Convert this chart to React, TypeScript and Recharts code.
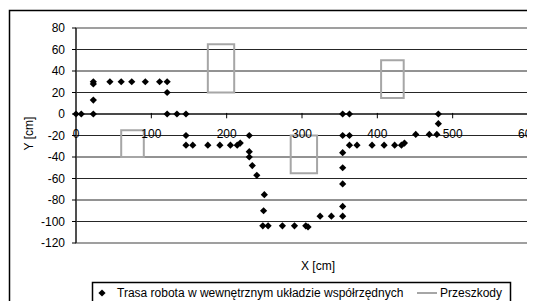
import React from "react";
import {
  ScatterChart, Scatter, XAxis, YAxis, CartesianGrid, ReferenceLine,
  ReferenceArea, Legend
} from "recharts";

// robot path
const robotX = [
  0, 7, 23, 23, 23, 23, 45, 60, 74, 92, 111, 121, 121, 121, 134, 146, 146, 146,
  155, 175, 191, 205, 214, 218, 230, 230, 230, 234, 240, 250, 249, 248, 255, 274,
  290, 305, 308, 324, 339, 354, 354, 354, 354, 354, 354, 354, 363, 363, 363, 373,
  393, 409, 423, 432, 436, 451, 469, 479, 481, 481,
];
const robotY = [
  0, 0, 0, 13, 28, 30, 30, 30, 30, 30, 30, 30, 20, 0, 0, 0, -20, -29,
  -29, -29, -29, -29, -29, -27, -20, -35, -40, -48, -57, -75, -90, -104, -104, -104,
  -104, -104, -105, -95, -95, -95, -86, -65, -50, -36, -20, 0, 0, -20, -29, -29,
  -29, -29, -29, -29, -27, -19, -19, -19, -9, 0,
];

// obstacles: [x1, x2, y1, y2]
const obstacles = [
  [175, 210, 20, 65],
  [60, 90, -40, -15],
  [285, 320, -55, -20],
  [405, 435, 15, 50],
];

const xTicks = [0, 100, 200, 300, 400, 500, 600];
const yTicks = [-120, -100, -80, -60, -40, -20, 0, 20, 40, 60, 80];
const gridValues = [-100, -80, -60, -40, -20, 0, 20, 40, 60];

const robot = robotX.map((x, i) => ({ x, y: robotY[i] }));
const obstacleOutlines = obstacles.map(([x1, x2, y1, y2]) => [
  { x: x1, y: y1 },
  { x: x2, y: y1 },
  { x: x2, y: y2 },
  { x: x1, y: y2 },
  { x: x1, y: y1 },
]);

const FONT = '"Liberation Sans", Arial, sans-serif';

const Diamond = (props: any) => {
  const { cx, cy } = props;
  const r = 3.6;
  return (
    <polygon
      points={`${cx},${cy - r} ${cx + r},${cy} ${cx},${cy + r} ${cx - r},${cy}`}
      fill="#000"
    />
  );
};

const LegendItems = () => (
  <div
    style={{
      position: "relative",
      width: 419,
      height: 19,
      fontFamily: FONT,
      fontSize: 12,
      lineHeight: "14px",
      color: "#000",
    }}
  >
    <svg width={419} height={19} style={{ position: "absolute", left: 0, top: 0 }}>
      <polygon points="10,7.4 13.6,11 10,14.6 6.4,11" fill="#000" />
      <line x1={325} x2={345} y1={11} y2={11} stroke="#a6a6a6" strokeWidth={2} />
    </svg>
    <span style={{ position: "absolute", left: 25, top: 4, whiteSpace: "nowrap" }}>
      Trasa robota w wewnętrznym układzie współrzędnych
    </span>
    <span style={{ position: "absolute", left: 348, top: 4, whiteSpace: "nowrap" }}>
      Przeszkody
    </span>
  </div>
);

export default function App() {
  return (
    <div style={{ position: "relative", width: 527, height: 293, overflow: "hidden", background: "#fff" }}>
      <div style={{ position: "absolute", left: 0, top: 0 }}>
        <ScatterChart
          width={527}
          height={293}
          margin={{ top: 20, right: 7, left: 8, bottom: 0 }}
          style={{ fontFamily: FONT }}
        >
          <CartesianGrid
            horizontal
            vertical={false}
            horizontalValues={gridValues}
            stroke="#000"
            strokeOpacity={0.85}
          />
          <ReferenceArea
            x1={0} x2={600} y1={-120} y2={80}
            fill="none" fillOpacity={0} stroke="#808080" strokeWidth={1.5}
            ifOverflow="visible"
          />
          <XAxis
            type="number"
            dataKey="x"
            domain={[0, 600]}
            ticks={xTicks}
            tick={false}
            axisLine={false}
            tickLine={false}
            height={58}
            label={(p: any) => {
              const vb = p.viewBox;
              return (
                <text
                  x={vb.x + vb.width / 2 + 16}
                  y={vb.y + 27}
                  textAnchor="middle"
                  fontSize={12}
                  fill="#000"
                  fontFamily={FONT}
                >
                  X [cm]
                </text>
              );
            }}
          />
          <YAxis
            type="number"
            dataKey="y"
            domain={[-120, 80]}
            ticks={yTicks}
            interval={0}
            width={60}
            axisLine={{ stroke: "#000" }}
            tickLine={{ stroke: "#000" }}
            tickSize={4}
            tickMargin={7}
            tick={{ fontSize: 12, fill: "#000", fontFamily: FONT }}
            label={(p: any) => {
              const vb = p.viewBox;
              const x = vb.x + 17;
              const y = vb.y + vb.height / 2 - 2;
              return (
                <text
                  x={x}
                  y={y}
                  transform={`rotate(-90, ${x}, ${y})`}
                  textAnchor="middle"
                  fontSize={12}
                  fill="#000"
                  fontFamily={FONT}
                >
                  Y [cm]
                </text>
              );
            }}
          />
          <ReferenceLine y={0} stroke="#000" />
          {xTicks.map((v) => (
            <ReferenceLine
              key={v}
              segment={[{ x: v, y: -4 }, { x: v, y: 1 }]}
              stroke={v === 0 ? "none" : "#000"}
              ifOverflow="visible"
              label={{
                value: String(v),
                position: "bottom",
                offset: 11,
                fontSize: 12,
                fill: "#000",
                fontFamily: FONT,
              }}
            />
          ))}
          {obstacleOutlines.map((pts, i) => (
            <Scatter
              key={i}
              data={pts}
              line={{ stroke: "#a6a6a6", strokeWidth: 2, strokeLinecap: "square" }}
              shape={() => <g />}
              legendType="none"
              isAnimationActive={false}
            />
          ))}
          <Scatter
            data={robot}
            shape={Diamond}
            isAnimationActive={false}
          />
          <Legend
            layout="horizontal"
            verticalAlign="middle"
            align="center"
            wrapperStyle={{ left: 84, top: 274, width: 419 }}
            content={() => <LegendItems />}
          />
        </ScatterChart>
      </div>
      {/* chart frame and legend frame, drawn on top */}
      <svg
        width={527}
        height={293}
        style={{ position: "absolute", left: 0, top: 0, zIndex: 10, pointerEvents: "none" }}
      >
        <path d="M1.5,293 V2.5 H527" fill="none" stroke="#000" strokeWidth={1.5} />
        <path d="M84.5,293 V274.5 H502.5 V293" fill="none" stroke="#000" strokeWidth={1.5} />
      </svg>
    </div>
  );
}
